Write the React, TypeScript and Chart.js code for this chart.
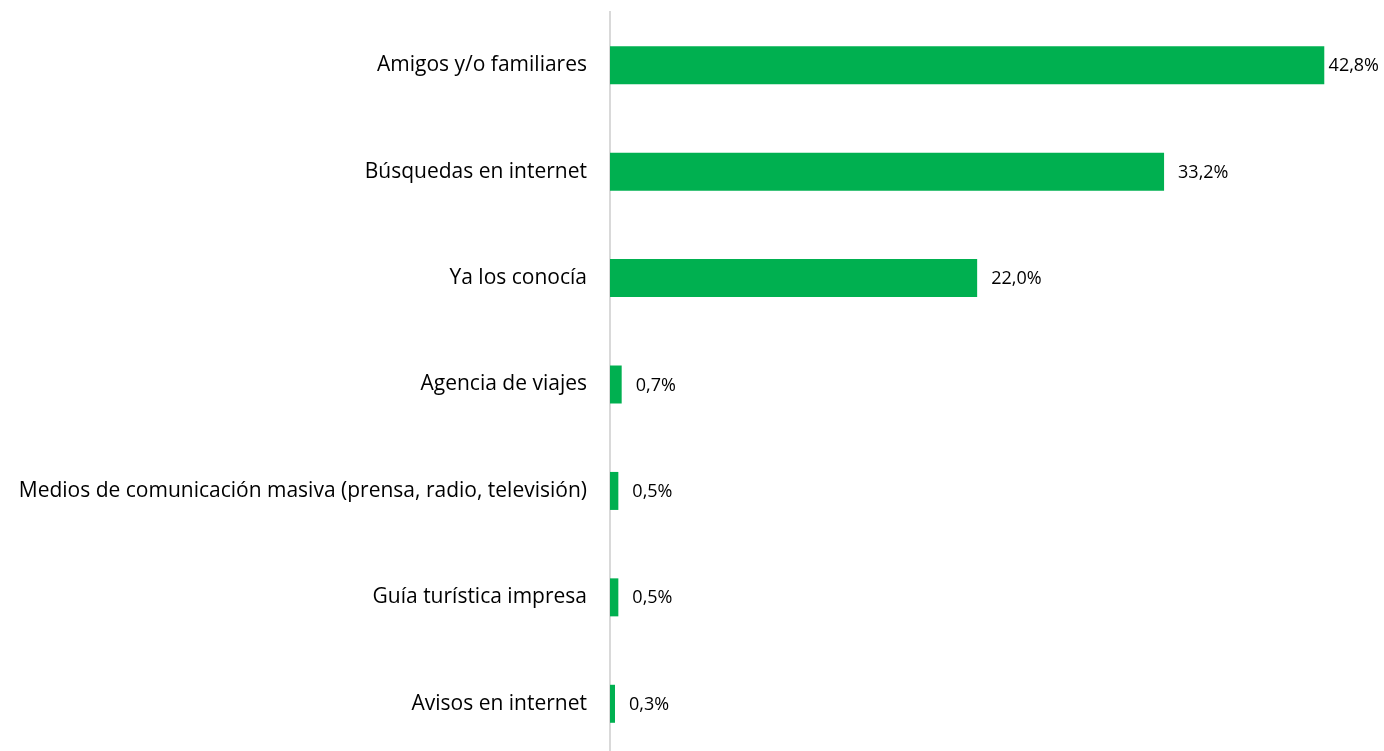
import React, { useEffect, useRef } from "react";
import { Chart, registerables } from "chart.js";

Chart.register(...registerables);

const categories = [
  "Amigos y/o familiares",
  "Búsquedas en internet",
  "Ya los conocía",
  "Agencia de viajes",
  "Medios de comunicación masiva (prensa, radio, televisión)",
  "Guía turística impresa",
  "Avisos en internet",
];
const values = [42.8, 33.2, 22.0, 0.7, 0.5, 0.5, 0.3];
const valueLabels = ["42,8%", "33,2%", "22,0%", "0,7%", "0,5%", "0,5%", "0,3%"];

const FONT = "'Open Sans', 'Liberation Sans', sans-serif";

const labelPlugin = {
  id: "barLabels",
  afterDatasetsDraw(chart: any) {
    const ctx = chart.ctx;
    const meta = chart.getDatasetMeta(0);
    ctx.save();
    ctx.font = `18px ${FONT}`;
    ctx.fillStyle = "#000000";
    ctx.textBaseline = "middle";
    ctx.textAlign = "left";
    meta.data.forEach((bar: any, i: number) => {
      const t = valueLabels[i];
      const w = ctx.measureText(t).width;
      let x = bar.x + 14;
      const maxX = chart.width - w - 5;
      if (x > maxX) x = Math.max(bar.x + 1, maxX);
      ctx.fillText(t, x, bar.y + 1);
    });
    ctx.restore();
  },
};

export default function App() {
  const ref = useRef<HTMLCanvasElement | null>(null);
  useEffect(() => {
    if (!ref.current) return;
    const chart = new Chart(ref.current, {
      type: "bar",
      data: {
        labels: categories,
        datasets: [
          {
            data: values,
            backgroundColor: "#00B050",
            borderWidth: 0,
            barPercentage: 0.357,
            categoryPercentage: 1,
          },
        ],
      },
      options: {
        indexAxis: "y",
        animation: false,
        responsive: false,
        maintainAspectRatio: false,
        layout: { padding: { top: 12, bottom: 1, right: 23, left: 0 } },
        plugins: { legend: { display: false }, tooltip: { enabled: false } },
        scales: {
          x: { display: false, min: 0, max: 45 },
          y: {
            afterFit(scale: any) {
              scale.width = 610;
              scale.paddingTop = 0;
              scale.paddingBottom = 0;
            },
            grid: { display: false },
            border: { display: true, color: "#d9d9d9", width: 2 },
            ticks: {
              color: "#000000",
              padding: 15,
              font: { family: FONT, size: 21 },
            },
          },
        },
      },
      plugins: [labelPlugin],
    });
    return () => chart.destroy();
  }, []);
  return (
    <div
      style={{
        position: "fixed",
        left: 0,
        top: 0,
        width: 1384,
        height: 751,
        overflow: "hidden",
        background: "#fff",
      }}
    >
      <canvas ref={ref} width={1384} height={758} style={{ display: "block" }} />
    </div>
  );
}
